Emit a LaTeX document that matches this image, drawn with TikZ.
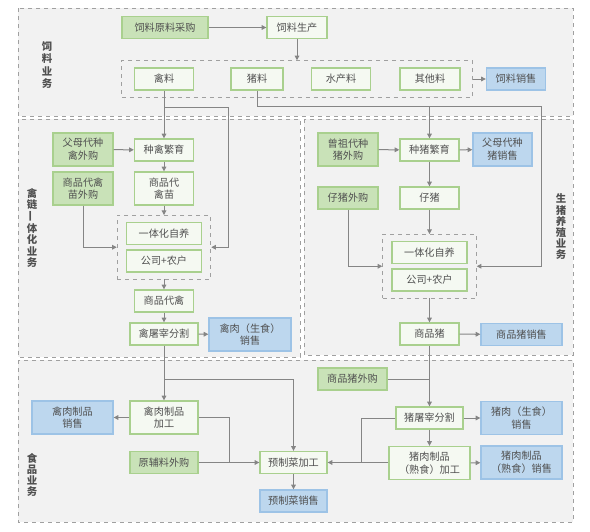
\documentclass[tikz,border=0pt]{standalone}
\usepackage{fontspec}
\setmainfont{Noto Sans CJK SC}
\usetikzlibrary{arrows.meta,fit}

\definecolor{secbg}{HTML}{F2F2F2}
\definecolor{secline}{HTML}{A0A0A0}
\definecolor{srcfill}{HTML}{C9E2B8}
\definecolor{srcline}{HTML}{A9D08E}
\definecolor{procfill}{HTML}{F5F9F2}
\definecolor{salefill}{HTML}{BDD7EE}
\definecolor{saleline}{HTML}{9DC3E6}
\definecolor{wirec}{HTML}{858585}
\definecolor{txt}{HTML}{505050}

\begin{document}
\begin{tikzpicture}[x=0.75pt,y=-0.75pt,
  box/.style={draw,line width=1pt,inner sep=0pt,align=center,
    minimum height=16.5pt,font=\fontsize{7.6}{9.5}\selectfont,text=txt},
  wd/.style={minimum width={#1*0.75pt}},
  tall/.style={minimum height=24.75pt},
  src/.style={box,fill=srcfill,draw=srcline},
  proc/.style={box,fill=procfill,draw=srcline},
  sale/.style={box,fill=salefill,draw=saleline},
  grp/.style={draw=secline,dashed,line width=0.6pt},
  sec/.style={draw=secline,fill=secbg,dashed,line width=0.6pt},
  lbl/.style={font=\fontsize{7.8}{8.4}\selectfont\bfseries,text=txt,align=center},
  wire/.style={draw=wirec,line width=0.75pt},
  arr/.style={wire,-{Triangle[length=3.5pt,width=3.5pt]}}
]
  \useasboundingbox[fill=white] (0,0) rectangle (590,532);

  % business areas
  \draw[sec] (18,8) rectangle (573,116);
  \draw[sec] (18,119) rectangle (300,357);
  \draw[sec] (304,119) rectangle (573,355);
  \draw[sec] (18,360) rectangle (573,522);
  \node[lbl,font=\fontsize{7.8}{9.4}\selectfont\bfseries] (lfeed) at (47,65) {饲\\料\\业\\务};
  \node[lbl] (lqin) at (32,228) {禽\\链\\\rotatebox{90}{一}\\体\\化\\业\\务};
  \node[lbl] (lzhu) at (561,227) {生\\猪\\养\\殖\\业\\务};
  \node[lbl] (lfood) at (32,475) {食\\品\\业\\务};

  % feed
  \node[src,wd=86] (ylcg) at (165,27.5) {饲料原料采购};
  \node[proc,wd=60] (ylsc) at (297,27.5) {饲料生产};
  \node[proc,wd=59] (qinliao) at (164,79) {禽料};
  \node[proc,wd=52] (zhuliao) at (257,79) {猪料};
  \node[proc,wd=59] (scliao) at (341,79) {水产料};
  \node[proc,wd=60] (qtliao) at (430,79) {其他料};
  \node[sale,wd=59] (ylxs) at (516,79) {饲料销售};
  \node[grp,fit=(qinliao)(qtliao),inner xsep=9pt,inner ysep=5pt] (feedgrp) {};

  \draw[arr] (ylcg) -- (ylsc);
  \draw[arr] (ylsc) -- (ylsc |- feedgrp.north);
  \draw[arr] (feedgrp.east |- ylxs) -- (ylxs);

  % poultry
  \node[src,tall,wd=60] (fmdq) at (83,149.5) {父母代种\\禽外购};
  \node[proc,wd=59] (zqfy) at (164,150) {种禽繁育};
  \node[src,tall,wd=60] (spqmwg) at (83,188.5) {商品代禽\\苗外购};
  \node[proc,tall,wd=59] (spqm) at (164,188.5) {商品代\\禽苗};
  \node[proc,wd=75] (qzy) at (164,233.5) {一体化自养};
  \node[proc,wd=75] (qgn) at (164,261) {公司+农户};
  \node[grp,fit=(qzy)(qgn),inner xsep=6.5pt,inner ysep=4.8pt] (qgrp) {};
  \node[proc,wd=59] (spq) at (164,301) {商品代禽};
  \node[proc,wd=68] (qtz) at (164,334) {禽屠宰分割};
  \node[sale,tall,wd=82] (qrxs) at (250,334.5) {禽肉（生食）\\销售};

  \coordinate (qb) at (228,107);
  \draw[arr] (qinliao) -- (zqfy);
  \draw[arr] (qinliao.south |- qb) -- (qb) |- (qgrp.east);
  \draw[arr] (fmdq) -- (zqfy);
  \draw[arr] (zqfy) -- (spqm);
  \draw[arr] (spqm) -- (qgrp);
  \draw[arr] (spqmwg) |- (qgrp.west);
  \draw[arr] (qgrp) -- (spq);
  \draw[arr] (spq) -- (qtz);
  \draw[arr] (qtz) -- (qrxs);

  % pig
  \node[src,tall,wd=60] (zzdz) at (348,149.5) {曾祖代种\\猪外购};
  \node[proc,wd=59] (zzfy) at (429.5,150) {种猪繁育};
  \node[sale,tall,wd=59] (fmdz) at (502.5,149.5) {父母代种\\猪销售};
  \node[src,wd=60] (zzwg) at (348,198) {仔猪外购};
  \node[proc,wd=59] (zz) at (429.5,198) {仔猪};
  \node[proc,wd=75] (zzy) at (429.5,252.5) {一体化自养};
  \node[proc,wd=75] (zgn) at (429.5,280) {公司+农户};
  \node[grp,fit=(zzy)(zgn),inner xsep=6.5pt,inner ysep=4.8pt] (zgrp) {};
  \node[proc,wd=59] (spz) at (429.5,334) {商品猪};
  \node[sale,wd=81] (spzxs) at (521.5,334.5) {商品猪销售};

  \coordinate (zb) at (541,106);
  \draw[arr] (zhuliao) |- (zb) |- (zgrp.east);
  \draw[arr] (zzfy.north |- zb) -- (zzfy);
  \draw[arr] (zzdz) -- (zzfy);
  \draw[arr] (zzfy) -- (fmdz);
  \draw[arr] (zzfy) -- (zz);
  \draw[arr] (zz) -- (zgrp);
  \draw[arr] (zzwg) |- (zgrp.west);
  \draw[arr] (zgrp) -- (spz);
  \draw[arr] (spz) -- (spzxs);

  % food
  \node[proc,tall,wd=68] (qrzp) at (164,417.5) {禽肉制品\\加工};
  \node[sale,tall,wd=81] (qrzx) at (72.5,417.5) {禽肉制品\\销售};
  \node[src,wd=68] (yflwg) at (164,462.5) {原辅料外购};
  \node[proc,wd=67] (yzcjg) at (293.5,462.5) {预制菜加工};
  \node[sale,wd=67] (yzcxs) at (293.5,501) {预制菜销售};
  \node[src,wd=69] (spzwg) at (352.5,379) {商品猪外购};
  \node[proc,wd=67] (ztz) at (429.5,418) {猪屠宰分割};
  \node[sale,tall,wd=81] (zrxs) at (521.5,418) {猪肉（生食）\\销售};
  \node[proc,tall,wd=81] (zrzp) at (429.5,463) {猪肉制品\\（熟食）加工};
  \node[sale,tall,wd=81] (zrzx) at (521.5,462.5) {猪肉制品\\（熟食）销售};

  \coordinate (fb) at (293.5,379);
  \coordinate (qj) at (229,462.5);
  \coordinate (zj) at (361,462.5);
  \draw[arr] (qtz) -- (qrzp);
  \draw[arr] (qtz.south |- fb) -- (fb) -- (yzcjg);
  \draw[arr] (qrzp) -- (qrzx);
  \draw[wire] (qrzp.east) -| (qj);
  \draw[arr] (yflwg) -- (yzcjg);
  \draw[arr] (yzcjg) -- (yzcxs);
  \draw[arr] (spz) -- (ztz);
  \draw[wire] (spzwg) -- (spzwg -| ztz);
  \draw[arr] (ztz) -- (zrxs);
  \draw[arr] (ztz) -- (zrzp);
  \draw[arr] (zrzp) -- (zrzx);
  \draw[arr] (zrzp.west |- yzcjg) -- (yzcjg);
  \draw[wire] (ztz.west) -| (zj);
\end{tikzpicture}
\end{document}
